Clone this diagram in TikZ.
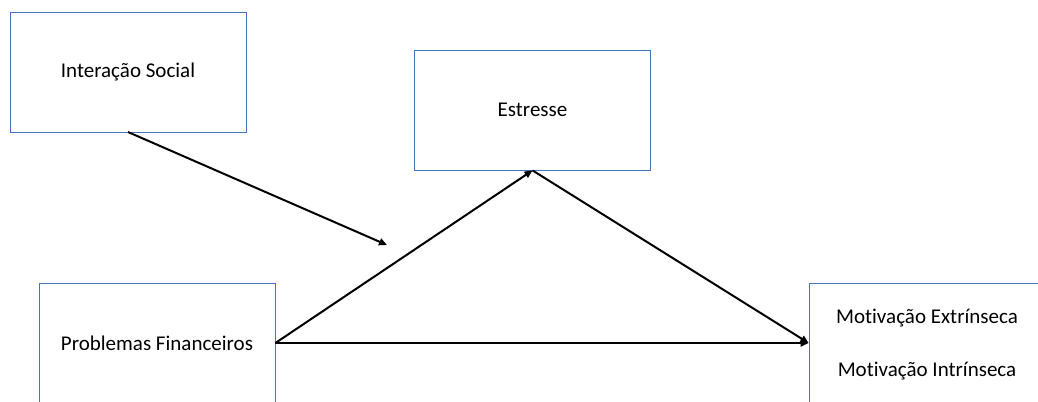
\documentclass[tikz,border=0pt]{standalone}
\usepackage{fontspec}
\setmainfont{Carlito}[Ligatures=NoCommon]
\usetikzlibrary{arrows.meta}
\definecolor{boxblue}{HTML}{4472C4}
\tikzset{
  varbox/.style={draw=boxblue, line width=0.8bp, fill=white, minimum width=236bp, minimum height=120bp, inner sep=0pt, font=\fontsize{21bp}{25bp}\selectfont, text=black, align=center},
  conn/.style={line width=2bp, -{Triangle[length=8bp,width=7bp]}}
}
\begin{document}
\begin{tikzpicture}[x=1bp,y=-1bp]
\useasboundingbox (0,0) rectangle (1038,401);
\clip (0,0) rectangle (1038,401);
\node[varbox] (social) at (128,72) {Interação Social};
\node[varbox] (stress) at (532.5,110) {Estresse};
\node[varbox] (fin) at (157,343) {Problemas Financeiros};
\node[varbox, text depth=0pt] (motiv) at (927,343) {\raisebox{-3bp}{}Motivação Extrínseca\\[28bp]Motivação Intrínseca};
\coordinate (mod) at (387,245);
\coordinate (socstart) at (128,132);
\draw[conn] (socstart) -- (mod);
\draw[conn] (fin.east) -- (stress.south);
\draw[conn] (stress.south) -- (motiv.west);
\draw[conn] (fin.east) -- (motiv.west);
\end{tikzpicture}
\end{document}
